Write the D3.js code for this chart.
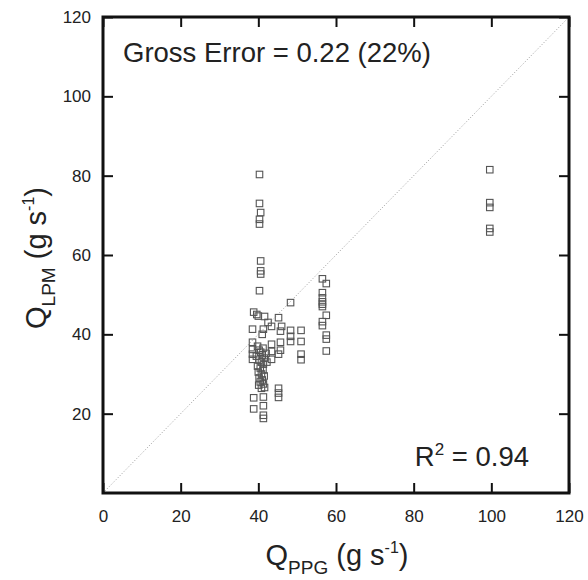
<!DOCTYPE html>
<html>
<head>
<meta charset="utf-8">
<script src="https://cdn.jsdelivr.net/npm/d3@7"></script>
<style>
  body { margin: 0; background: #fff; }
  text { font-family: Arial, "Liberation Sans", sans-serif; fill: #222; }
</style>
</head>
<body>
<svg id="svg"></svg>
<script>
'use strict';

// ---- data ----
var qPPG = [
    40.3, 40.3, 40.6, 40.3, 40.3, 40.6, 40.6, 40.6, 40.3,
    56.5, 57.5, 56.5, 56.5, 56.5, 56.5, 56.5, 57.5, 56.5, 56.5, 57.5, 57.5, 57.5,
    48.3, 48.3, 48.3, 48.3,
    51, 51, 51, 51,
    99.6, 99.6, 99.6, 99.6, 99.6,
    38.8, 38.5, 38.5, 38.5, 38.5, 38.5, 38.8, 38.8,
    39.6, 40,
    41.6, 41, 41.3,
    43.4, 43.4, 43.4, 43.4, 42.5,
    45.2, 46, 45.7, 45.7, 45.7, 45.2, 45.2, 45.2, 45.2,
    39.8, 40.2, 40.6, 41, 41.5, 40.2, 40.8, 41.3, 39.8, 40.5, 41.2, 40, 40.8, 41.5,
    40.2, 41, 40.5, 41.3, 40.1, 41.6, 40.8, 41.2, 42, 42.2, 39.5,
    41.3, 41.3, 41.3, 41.3
];
var qLPM = [
    80.3, 73, 70.7, 69, 67.8, 58.5, 56, 55.2, 51,
    54, 52.8, 50.5, 49.2, 48.2, 47.6, 47, 44.8, 43.2, 42.2, 39.8, 38.8, 35.8,
    48, 41, 39.5, 38.2,
    41, 38.2, 35, 33.6,
    81.5, 73.2, 72, 66.7, 65.8,
    45.6, 41.3, 38, 36.2, 35, 33.7, 24, 21.2,
    45, 44.6,
    44.5, 40, 41.3,
    42, 37.5, 35.7, 33.7, 43,
    44.2, 42, 40.8, 38, 36, 35, 26.4, 25.2, 24.1,
    37, 36, 35.5, 34.8, 34, 33.5, 33, 32.5, 32, 31.5, 31, 30.5, 30, 29.5,
    29, 28.5, 28, 27.5, 27.2, 26.6, 26.4, 36.5, 35.2, 33, 34.5,
    24.2, 22, 19.6, 18.8
];
var xTicks = [0, 20, 40, 60, 80, 100, 120];
var yTicks = [20, 40, 60, 80, 100, 120];
var grossErrorLabel = "Gross Error = 0.22 (22%)";
var r2Value = "0.94";

// ---- layout ----
var width = 588;
var height = 580;
var mLeft = 103, mRight = 569, mTop = 17, mBottom = 493;

var svg = d3.select("#svg")
    .attr("width", width)
    .attr("height", height);

var x = d3.scaleLinear().domain([0, 120]).range([mLeft, mRight]);
var y = d3.scaleLinear().domain([0, 120]).range([mBottom, mTop]);

var points = qPPG.map((v, i) => ({ x: v, y: qLPM[i] }));

// 1:1 line
svg.append("line")
    .attr("x1", x(0)).attr("y1", y(0))
    .attr("x2", x(120)).attr("y2", y(120))
    .attr("stroke", "#9a9a9a")
    .attr("stroke-width", 1)
    .attr("stroke-dasharray", "1,2");

// points
var s = 6.5;
svg.append("g")
    .selectAll("rect")
    .data(points)
    .join("rect")
    .attr("x", d => x(d.x) - s / 2)
    .attr("y", d => y(d.y) - s / 2)
    .attr("width", s)
    .attr("height", s)
    .attr("fill", "none")
    .attr("stroke", "#555")
    .attr("stroke-width", 1.1);

// axes, ticks inward on all sides
var tickLen = 10;
function styleAxis(g) {
    g.select(".domain").remove();
    g.selectAll(".tick line").attr("stroke", "#111").attr("stroke-width", 2);
    g.selectAll(".tick text")
        .style("font-family", "Arial, 'Liberation Sans', sans-serif")
        .style("font-size", "17px")
        .attr("fill", "#222");
}

svg.append("g")
    .attr("transform", `translate(0,${mBottom})`)
    .call(d3.axisBottom(x).tickValues(xTicks).tickSize(-tickLen).tickPadding(17))
    .call(styleAxis);

svg.append("g")
    .attr("transform", `translate(0,${mTop})`)
    .call(d3.axisTop(x).tickValues(xTicks).tickSize(-tickLen).tickFormat(""))
    .call(styleAxis);

svg.append("g")
    .attr("transform", `translate(${mLeft},0)`)
    .call(d3.axisLeft(y).tickValues(yTicks).tickSize(-tickLen).tickPadding(12))
    .call(styleAxis);

svg.append("g")
    .attr("transform", `translate(${mRight},0)`)
    .call(d3.axisRight(y).tickValues(yTicks).tickSize(-tickLen).tickFormat(""))
    .call(styleAxis);

// frame
svg.append("rect")
    .attr("x", mLeft).attr("y", mTop)
    .attr("width", mRight - mLeft).attr("height", mBottom - mTop)
    .attr("fill", "none")
    .attr("stroke", "#111")
    .attr("stroke-width", 3);

// annotations
svg.append("text")
    .attr("x", 123).attr("y", 62)
    .style("font-size", "27.5px")
    .text(grossErrorLabel);

var r2 = svg.append("text")
    .attr("x", 529).attr("y", 466)
    .attr("text-anchor", "end")
    .style("font-size", "27.5px");
r2.append("tspan").text("R");
r2.append("tspan").attr("dy", -11).style("font-size", "17px").text("2");
r2.append("tspan").attr("dy", 11).text(" = " + r2Value);

// axis titles
var xt = svg.append("text")
    .attr("x", 337).attr("y", 565)
    .attr("text-anchor", "middle")
    .style("font-size", "29px");
xt.append("tspan").text("Q");
xt.append("tspan").attr("dy", 9).style("font-size", "19px").text("PPG");
xt.append("tspan").attr("dy", -9).text(" (g s");
xt.append("tspan").attr("dy", -12).style("font-size", "16px").text("-1");
xt.append("tspan").attr("dy", 12).text(")");

var yt = svg.append("text")
    .attr("transform", `translate(46,258) rotate(-90)`)
    .attr("text-anchor", "middle")
    .style("font-size", "29px");
yt.append("tspan").text("Q");
yt.append("tspan").attr("dy", 9).style("font-size", "19px").text("LPM");
yt.append("tspan").attr("dy", -9).text(" (g s");
yt.append("tspan").attr("dy", -12).style("font-size", "16px").text("-1");
yt.append("tspan").attr("dy", 12).text(")");
</script>
</body>
</html>
